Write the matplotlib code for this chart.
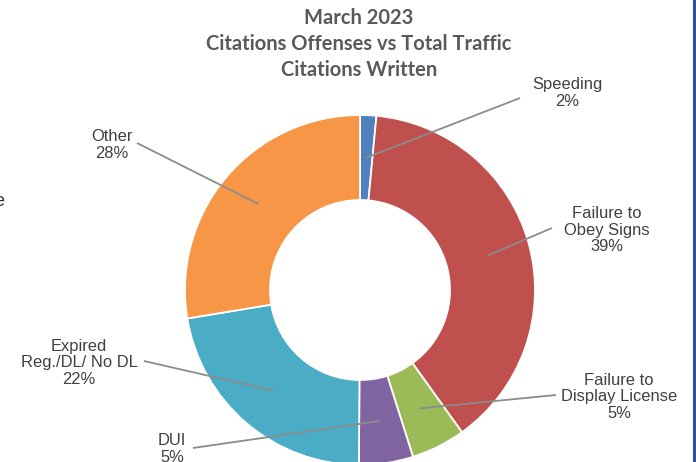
import matplotlib
matplotlib.use("Agg")
import matplotlib.pyplot as plt
import numpy as np

# ---- data ----
categories = ["Speeding", "Failure to\nObey Signs", "Failure to\nDisplay License",
              "DUI", "Expired\nReg./DL/ No DL", "Other"]
values = [1.5, 38.6, 5.0, 5.0, 22.3, 27.6]
colors = ["#4F81BD", "#C0504D", "#9BBB59", "#8064A2", "#4BACC6", "#F79646"]
title_lines = ["March 2023", "Citations Offenses vs Total Traffic", "Citations Written"]

# ---- layout (pixel units, image coords) ----
W, H = 696, 462
cx, cy, R_out, R_in = 360, 290, 175, 90
label_pos = [(567, 93), (607, 230), (619, 397), (172, 449), (79, 363), (112, 145)]
line_end = [(520, 98), (552, 228), (556, 395), (193, 448), (144, 361), (137, 143)]

fig = plt.figure(figsize=(W / 100, H / 100), dpi=100)
ax = fig.add_axes([0, 0, 1, 1])

wedges, _ = ax.pie(values, colors=colors, startangle=-90, counterclock=True,
                   center=(cx, cy), radius=R_out,
                   wedgeprops=dict(width=R_out - R_in, edgecolor="white", linewidth=1.3))
ax.set_xlim(0, W)
ax.set_ylim(H, 0)
ax.set_aspect("auto")
ax.axis("off")

r_mid = (R_out + R_in) / 2
lab_font = dict(family=["Liberation Sans", "DejaVu Sans"], fontsize=11.9, color="#404040")
for w, cat, v, (tx, ty), (ex, ey) in zip(wedges, categories, values, label_pos, line_end):
    ang = np.deg2rad((w.theta1 + w.theta2) / 2)
    sx, sy = cx + r_mid * np.cos(ang), cy + r_mid * np.sin(ang)
    ax.plot([sx, ex], [sy, ey], color="#8C8C8C", lw=1.3, solid_capstyle="butt")
    ax.text(tx, ty, f"{cat}\n{round(v)}%", ha="center", va="center",
            multialignment="center", linespacing=1.15, **lab_font)

# title
for i, t in enumerate(title_lines):
    ax.text(359, 18 + i * 26, t, ha="center", va="center", fontsize=14.5,
            fontweight="bold", color="#595959", family=["Lato", "DejaVu Sans"])

# right border line and partial left glyph
ax.plot([694, 694], [0, H], color="#2F55A0", lw=2.2, clip_on=False)
ax.text(4, 201, "e", ha="right", va="center", fontsize=13, color="#303030",
        family=["Liberation Sans"])

fig.savefig("out.png", dpi=100)
